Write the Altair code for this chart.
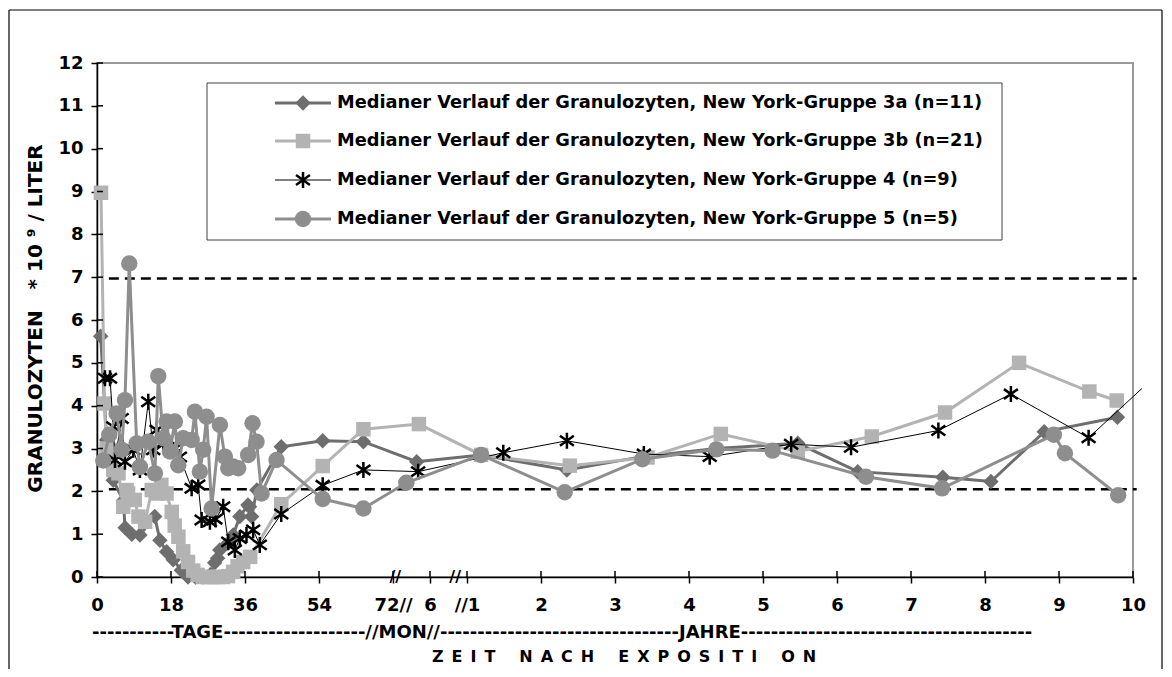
import altair as alt
import pandas as pd

FONT = "DejaVu Sans"

# x values are in axis units: days/18 up to 72 days (=4), 6 months = 4.5, year n = n + 4
g3a_x = [0.05, 0.13, 0.22, 0.355, 0.38, 0.47, 0.58, 0.78, 0.85, 0.94, 1.03, 1.14, 1.23, 1.33, 1.43, 1.53,
         1.59, 1.63, 1.66, 1.77, 1.84, 1.93, 2.04, 2.06, 2.09, 2.16, 2.49, 3.05, 3.60, 4.32, 5.19, 6.35,
         7.37, 8.37, 9.47, 10.28, 11.43, 12.08, 12.80, 13.79]
g3a_y = [5.62, 3.2, 2.26, 1.78, 1.15, 1.0, 0.98, 1.41, 0.86, 0.59, 0.40, 0.16, 0.0, 0.0, 0.0, 0.05,
         0.33, 0.44, 0.63, 0.79, 0.98, 1.41, 1.68, 1.64, 1.41, 2.03, 3.04, 3.18, 3.16, 2.69, 2.85, 2.5,
         2.81, 3.0, 3.12, 2.46, 2.33, 2.23, 3.39, 3.73]

g3b_x = [0.054, 0.10, 0.13, 0.176, 0.22, 0.29, 0.355, 0.40, 0.42, 0.51, 0.56, 0.65, 0.74, 0.81, 0.87, 0.94,
         1.01, 1.05, 1.10, 1.165, 1.23, 1.30, 1.36, 1.43, 1.50, 1.57, 1.63, 1.70, 1.77, 1.84, 1.90, 1.975,
         2.07, 2.49, 3.05, 3.60, 4.35, 5.19, 6.39, 7.44, 8.43, 9.47, 10.47, 11.46, 12.46, 13.41, 13.78]
g3b_y = [8.97, 4.05, 3.0, 2.97, 2.5, 2.42, 1.64, 2.03, 1.95, 1.8, 1.41, 1.29, 2.03, 1.95, 2.15, 1.95,
         1.52, 1.2, 0.94, 0.6, 0.35, 0.15, 0.05, 0.0, 0.0, 0.0, 0.0, 0.0, 0.02, 0.12, 0.25, 0.35,
         0.47, 1.7, 2.59, 3.45, 3.57, 2.85, 2.6, 2.79, 3.34, 2.93, 3.28, 3.84, 5.0, 4.33, 4.12]

g4_x = [0.108, 0.176, 0.22, 0.243, 0.333, 0.378, 0.49, 0.58, 0.693, 0.76, 0.806, 0.895, 1.03, 1.12,
        1.279, 1.368, 1.414, 1.526, 1.6, 1.705, 1.773, 1.863, 1.93, 2.02, 2.11, 2.2, 2.49, 3.05, 3.6,
        4.34, 5.49, 6.35, 7.39, 8.28, 9.38, 10.19, 11.37, 12.35, 13.4, 14.12]
g4_y = [4.64, 4.64, 3.51, 2.73, 3.7, 2.69, 2.97, 2.5, 4.09, 2.97, 3.43, 3.1, 2.97, 2.8,
        2.07, 2.15, 1.33, 1.29, 1.35, 1.64, 0.82, 0.63, 0.9, 0.98, 1.1, 0.75, 1.47, 2.14, 2.5,
        2.46, 2.9, 3.18, 2.87, 2.81, 3.1, 3.03, 3.42, 4.27, 3.25, 4.4]
g4_marker = [True] * 39 + [False]

g5_x = [0.085, 0.166, 0.266, 0.333, 0.378, 0.436, 0.536, 0.58, 0.693, 0.783, 0.828, 0.895, 0.941, 0.986,
        1.053, 1.098, 1.165, 1.279, 1.323, 1.39, 1.435, 1.481, 1.549, 1.661, 1.728, 1.773, 1.84, 1.908,
        2.043, 2.102, 2.156, 2.224, 2.426, 3.05, 3.6, 4.18, 5.19, 6.32, 7.37, 8.37, 9.13, 10.39, 11.42,
        12.93, 13.08, 13.8]
g5_y = [2.72, 3.32, 3.82, 2.97, 4.13, 7.32, 3.12, 2.57, 3.16, 2.42, 4.69, 3.24, 3.63, 2.93,
        3.63, 2.61, 3.24, 3.2, 3.86, 2.46, 2.97, 3.74, 1.6, 3.55, 2.81, 2.54, 2.58, 2.54,
        2.85, 3.59, 3.16, 1.95, 2.73, 1.82, 1.6, 2.2, 2.85, 1.98, 2.75, 2.98, 2.95, 2.34, 2.07,
        3.32, 2.89, 1.91]

names = [
    "Medianer Verlauf der Granulozyten, New York-Gruppe 3a (n=11)",
    "Medianer Verlauf der Granulozyten, New York-Gruppe 3b (n=21)",
    "Medianer Verlauf der Granulozyten, New York-Gruppe 4 (n=9)",
    "Medianer Verlauf der Granulozyten, New York-Gruppe 5 (n=5)",
]

ref_levels = [6.97, 2.05]
x_ticks = [0, 1, 2, 3, 4, 4.5, 5, 6, 7, 8, 9, 10, 11, 12, 13, 14]
y_ticks = list(range(0, 13))

ASTER = "M0,-1L0,1M-0.87,-0.62L0.87,0.62M-0.87,0.62L0.87,-0.62"

styles = [
    dict(color="#6e6e6e", lw=3, shape="diamond", size=240, filled=True),
    dict(color="#b3b3b3", lw=3, shape="square", size=210, filled=True),
    dict(color="#000000", lw=1, shape=ASTER, size=256, filled=False),
    dict(color="#8e8e8e", lw=3, shape="circle", size=270, filled=True),
]

W, H = 1036, 514
NB = "\u00a0"
EN = "\u2002"

label_expr = ("datum.value == 4 ? '72//' : datum.value == 4.5 ? '6' : datum.value == 5 ? '//1' : "
              "datum.value < 4 ? format(datum.value * 18, 'd') : format(datum.value - 4, 'd')")

y_title = "GRANULOZYTEN" + NB * 3 + "*" + NB + "10" + NB + "\u2079" + NB + "/" + NB + "LITER"


def X(field="x"):
    return alt.X(f"{field}:Q", scale=alt.Scale(domain=[0, 14], nice=False, zero=False),
                 axis=alt.Axis(values=x_ticks, labelExpr=label_expr, title=None, grid=False,
                               labelOverlap=False, labelFlush=False, labelPadding=13))


def Y(field="y"):
    return alt.Y(f"{field}:Q", scale=alt.Scale(domain=[0, 12], nice=False),
                 axis=alt.Axis(values=y_ticks, grid=False, labelPadding=8,
                               title=y_title,
                               titleX=-62, titleY=H / 2 - 2, titleAngle=270, titleAlign="center",
                               titleBaseline="middle"))


series = [
    (g3a_x, g3a_y, [True] * len(g3a_x)),
    (g3b_x, g3b_y, [True] * len(g3b_x)),
    (g4_x, g4_y, g4_marker),
    (g5_x, g5_y, [True] * len(g5_x)),
]

layers = []

# reference lines
ref_df = pd.DataFrame({"v": ref_levels})
layers.append(alt.Chart(ref_df).mark_rule(color="black", strokeWidth=2.5, strokeDash=[10, 6]).encode(
    y=Y("v"), x=alt.datum(0.16), x2=alt.datum(14.05)))

for (xs, ys, mk), st, nm in zip(series, styles, names):
    df = pd.DataFrame({"x": xs, "y": ys, "m": mk, "i": range(len(xs))})
    layers.append(alt.Chart(df).mark_line(color=st["color"], strokeWidth=st["lw"], clip=False).encode(
        x=X(), y=Y(), order="i:Q"))
    pdf = df[df["m"]]
    if st["filled"]:
        pm = alt.Chart(pdf).mark_point(shape=st["shape"], size=st["size"], filled=True, opacity=1,
                                       color=st["color"], strokeWidth=0)
    else:
        pm = alt.Chart(pdf).mark_point(shape=st["shape"], size=st["size"], filled=False, opacity=1,
                                       color=st["color"], strokeWidth=2.5)
    layers.append(pm.encode(x=X(), y=Y()))

# inner halves of crossing tick marks
xt_df = pd.DataFrame({"t": x_ticks})
layers.append(alt.Chart(xt_df).mark_rule(color="black", strokeWidth=1.5).encode(
    x=X("t"), y=alt.value(H), y2=alt.value(H - 6)))
yt_df = pd.DataFrame({"t": y_ticks})
layers.append(alt.Chart(yt_df).mark_rule(color="black", strokeWidth=1.5).encode(
    y=Y("t"), x=alt.value(0), x2=alt.value(6)))

# axis break marks
br_df = pd.DataFrame({"x": [4.03, 4.84], "y": [0, 0], "t": ["//", "//"]})
layers.append(alt.Chart(br_df).mark_text(font=FONT, fontSize=16, fontWeight="bold", color="black",
                                         baseline="middle").encode(x=X(), y=Y(), text="t:N"))

# legend (drawn manually, lines with markers)
leg_rows = [40, 78, 117, 156]
layers.append(alt.Chart(pd.DataFrame({"a": [0]})).mark_rect(fill="white", stroke="#404040", strokeWidth=1).encode(
    x=alt.value(110), x2=alt.value(905), y=alt.value(20), y2=alt.value(177)))
for ry, st, nm in zip(leg_rows, styles, names):
    ldf = pd.DataFrame({"label": [nm]})
    layers.append(alt.Chart(ldf).mark_rule(color=st["color"], strokeWidth=st["lw"]).encode(
        x=alt.value(178), x2=alt.value(234), y=alt.value(ry)))
    if st["filled"]:
        lp = alt.Chart(ldf).mark_point(shape=st["shape"], size=st["size"], filled=True, opacity=1,
                                       color=st["color"], strokeWidth=0)
    else:
        lp = alt.Chart(ldf).mark_point(shape=st["shape"], size=st["size"], filled=False, opacity=1,
                                       color=st["color"], strokeWidth=2.5)
    layers.append(lp.encode(x=alt.value(206), y=alt.value(ry)))
    layers.append(alt.Chart(ldf).mark_text(font=FONT, fontSize=17.8, fontWeight="bold", align="left",
                                           baseline="middle", color="black").encode(
        x=alt.value(240), y=alt.value(ry), text="label:N"))

# texts below the axis
t1 = ("-" * 11 + "TAGE" + "-" * 19 + "//MON//" + "-" * 32 + "JAHRE" + "-" * 39)
t2 = (EN.join("ZEIT") + EN * 3 + EN.join("NACH") + EN * 3 + EN.join("EXPOSITI") + EN * 3 + EN.join("ON"))
layers.append(alt.Chart(pd.DataFrame({"t": [t1]})).mark_text(
    font=FONT, fontSize=18, fontWeight="bold", align="left", baseline="middle", color="black").encode(
    x=alt.value(-5), y=alt.value(570), text="t:N"))
layers.append(alt.Chart(pd.DataFrame({"t": [t2]})).mark_text(
    font=FONT, fontSize=16, fontWeight="bold", align="center", baseline="middle", color="black").encode(
    x=alt.value(527), y=alt.value(594), text="t:N"))

# outer frame
frame = pd.DataFrame({"a": [0]})
layers.append(alt.Chart(frame).mark_rule(color="black", strokeWidth=1.2).encode(
    x=alt.value(-88), x2=alt.value(1065), y=alt.value(-53)))
layers.append(alt.Chart(frame).mark_rule(color="black", strokeWidth=1.2).encode(
    x=alt.value(-88), y=alt.value(-53), y2=alt.value(630)))
layers.append(alt.Chart(frame).mark_rule(color="black", strokeWidth=1.2).encode(
    x=alt.value(1065), y=alt.value(-53), y2=alt.value(630)))

chart = alt.layer(*layers).properties(
    width=W, height=H,
    autosize=alt.AutoSizeParams(type="none"),
    padding={"left": 89, "top": 55, "right": 31, "bottom": 92},
).configure_view(stroke="#9a9a9a", strokeWidth=2).configure_axis(
    domainColor="black", domainWidth=1.5, tickColor="black", tickWidth=1.5, tickSize=6,
    labelFont=FONT, labelFontSize=18, labelFontWeight="bold", labelColor="black",
    titleFont=FONT, titleFontSize=20, titleFontWeight="bold", titleColor="black",
)

chart.save("out.html", embed_options={"renderer": "svg", "actions": False})
